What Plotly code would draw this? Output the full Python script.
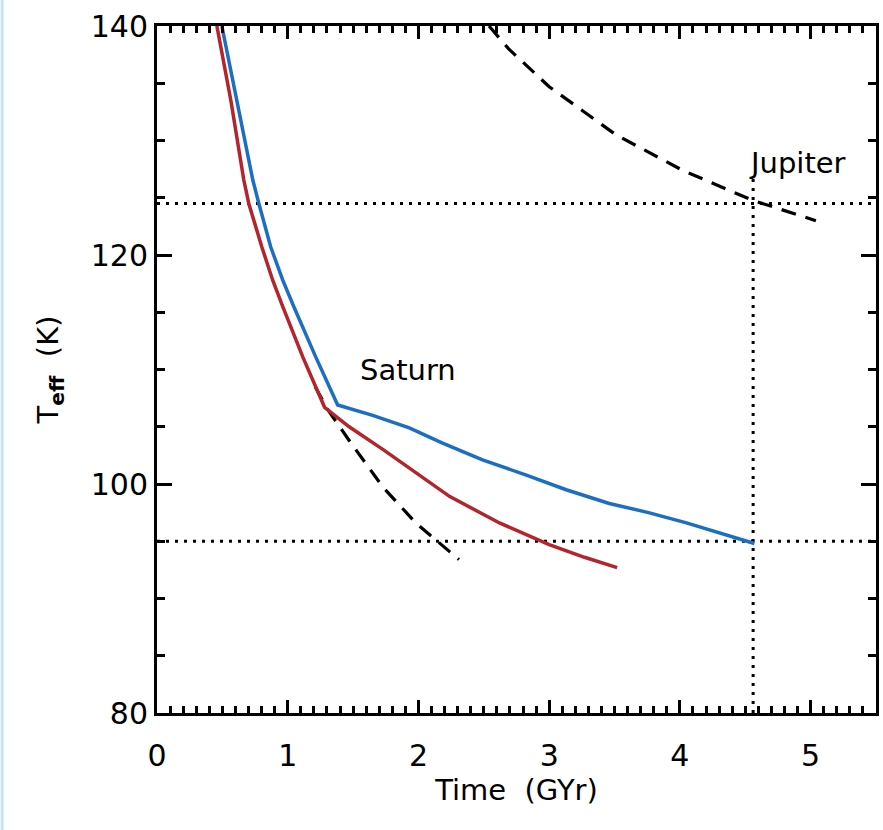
import plotly.graph_objects as go

# ---------------- data ----------------
# Saturn, model A (blue)
sat_blue_t = [0.496, 0.611, 0.733, 0.779, 0.870, 0.962, 1.046, 1.214, 1.382, 1.65, 1.93, 2.18, 2.49, 2.82, 3.13, 3.46, 3.76, 4.05, 4.57]
sat_blue_T = [140.0, 133.5, 126.55, 124.5, 120.7, 117.8, 115.5, 111.1, 106.9, 106.0, 104.9, 103.6, 102.1, 100.8, 99.5, 98.3, 97.5, 96.6, 94.8]

# Saturn, model B (red)
sat_red_t = [0.458, 0.565, 0.664, 0.702, 0.802, 0.885, 0.962, 1.115, 1.282, 1.47, 1.73, 1.98, 2.24, 2.62, 3.00, 3.27, 3.52]
sat_red_T = [140.0, 133.5, 126.55, 124.5, 120.7, 117.8, 115.5, 111.1, 106.7, 105.0, 103.0, 101.0, 98.9, 96.6, 94.7, 93.6, 92.7]

# Saturn, homogeneous model (dashed)
sat_dash_t = [1.21, 1.30, 1.47, 1.73, 1.98, 2.31]
sat_dash_T = [108.5, 106.6, 103.8, 99.7, 96.6, 93.4]

# Jupiter (dashed)
jup_t = [2.54, 2.69, 3.00, 3.31, 3.51, 4.02, 4.55, 5.04]
jup_T = [140.0, 138.0, 134.7, 132.1, 130.5, 127.4, 124.8, 123.0]

# observed values / solar-system age
jup_Teff_obs = 124.5
sat_Teff_obs = 95.0
solar_age = 4.56
solar_age_line_top = 126.8
x_range = [0, 5.5]
y_range = [80, 140]
x_ticks = [0, 1, 2, 3, 4, 5]
y_ticks = [80, 100, 120, 140]

FONT = "DejaVu Sans"
BLUE = "#1c6fc0"
RED = "#b3242b"

fig = go.Figure()

dot = dict(color="black", width=3, dash="3px,6px")
fig.add_trace(go.Scatter(x=x_range, y=[jup_Teff_obs] * 2, mode="lines", line=dot, hoverinfo="skip"))
fig.add_trace(go.Scatter(x=x_range, y=[sat_Teff_obs] * 2, mode="lines", line=dot, hoverinfo="skip"))
fig.add_trace(go.Scatter(x=[solar_age] * 2, y=[y_range[0], solar_age_line_top], mode="lines", line=dot, hoverinfo="skip"))

fig.add_trace(go.Scatter(x=sat_dash_t, y=sat_dash_T, mode="lines",
                         line=dict(color="black", width=3.2, dash="15px,10px")))
fig.add_trace(go.Scatter(x=jup_t, y=jup_T, mode="lines",
                         line=dict(color="black", width=3.2, dash="15px,10px")))
fig.add_trace(go.Scatter(x=sat_red_t, y=sat_red_T, mode="lines",
                         line=dict(color=RED, width=3.5)))
fig.add_trace(go.Scatter(x=sat_blue_t, y=sat_blue_T, mode="lines",
                         line=dict(color=BLUE, width=3.5)))

fig.add_annotation(x=1.92, y=110.0, text="Saturn", showarrow=False,
                   font=dict(family=FONT, size=29, color="black"))
fig.add_annotation(x=4.90, y=128.0, text="Jupiter", showarrow=False,
                   font=dict(family=FONT, size=29, color="black"))

axis_common = dict(showline=True, linecolor="black", linewidth=3, mirror="ticks",
                   ticks="inside", tickcolor="black", tickwidth=2.5,
                   showgrid=False, zeroline=False,
                   tickfont=dict(family=FONT, size=30, color="black"))

fig.update_xaxes(range=x_range, tickvals=x_ticks, ticklen=13, ticklabelstandoff=14,
                 minor=dict(ticks="inside", dtick=0.1, ticklen=7, tickwidth=2.5, tickcolor="black"),
                 title=dict(text="Time  (GYr)", font=dict(family=FONT, size=29, color="black"), standoff=6),
                 **axis_common)
fig.update_yaxes(range=y_range, tickvals=y_ticks, ticklen=15,
                 minor=dict(ticks="inside", dtick=5, ticklen=8, tickwidth=2.5, tickcolor="black"),
                 title=dict(text="T<sub><b>eff</b></sub>  (K)", font=dict(family=FONT, size=29, color="black"), standoff=24),
                 **axis_common)

# light blue strip on the left edge of the page
fig.add_shape(type="rect", xref="paper", yref="paper",
              x0=-157 / 722, x1=-154 / 722, y0=-117 / 687, y1=830 / 687 - 117 / 687,
              fillcolor="#c9e2fb", line=dict(width=0), layer="below")

fig.update_layout(width=883, height=830, showlegend=False,
                  margin=dict(l=157, r=4, t=26, b=117),
                  paper_bgcolor="white", plot_bgcolor="white",
                  font=dict(family=FONT, color="black"))

fig.write_html("out.html")
